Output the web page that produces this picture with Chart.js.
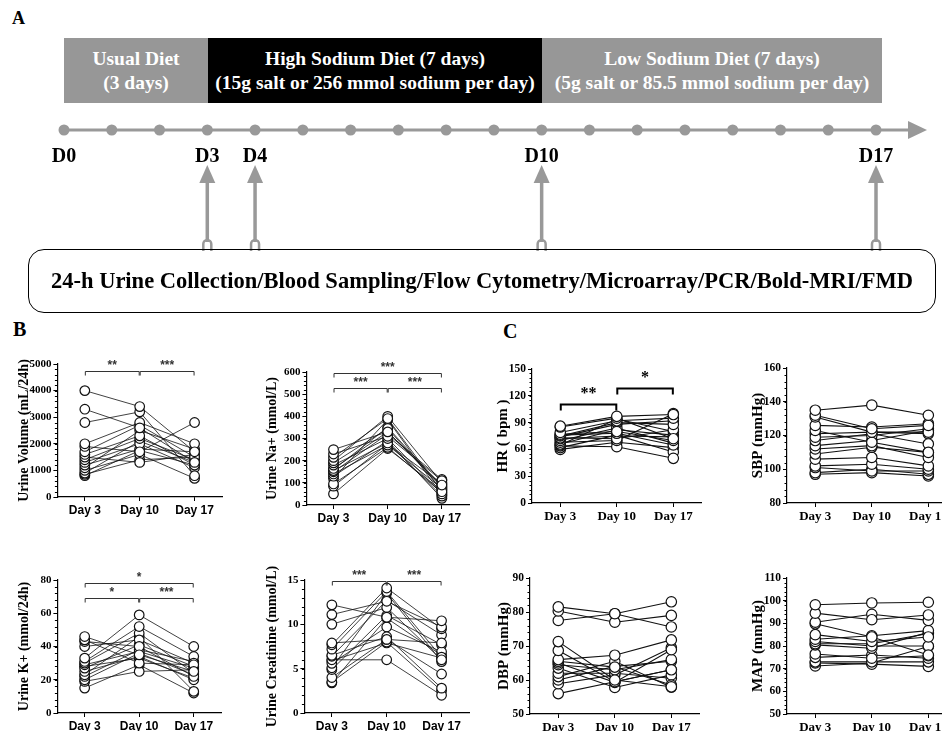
<!DOCTYPE html>
<html>
<head>
<meta charset="utf-8">
<script src="https://cdn.jsdelivr.net/npm/chart.js@4.4.1/dist/chart.umd.min.js"></script>
<style>
html, body { margin: 0; padding: 0; background: #fff; }
body { width: 942px; height: 731px; position: relative; overflow: hidden;
       font-family: "Liberation Serif", "Times New Roman", serif; }
.panel { position: absolute; font-weight: bold; font-size: 20px; color: #000; }
.diet { position: absolute; top: 38px; height: 65px; color: #fff; font-weight: bold;
        font-size: 19.5px; line-height: 24px; text-align: center; white-space: nowrap;
        display: flex; flex-direction: column; justify-content: center; }
.box { position: absolute; left: 28px; top: 249px; width: 906px; height: 62px;
       border: 1.5px solid #000; border-radius: 16px; display: flex; white-space: nowrap;
       align-items: center; justify-content: center; font-weight: bold; font-size: 22.5px; }
canvas { position: absolute; }
</style>
</head>
<body>

<div class="panel" style="left:12px;top:8px;font-size:18px;">A</div>
<div class="diet" style="left:64px;width:144px;background:#979797;"><div>Usual Diet</div><div>(3 days)</div></div>
<div class="diet" style="left:208px;width:334px;background:#000;"><div>High Sodium Diet (7 days)</div><div>(15g salt or 256 mmol sodium per day)</div></div>
<div class="diet" style="left:542px;width:340px;background:#979797;"><div>Low Sodium Diet (7 days)</div><div>(5g salt or 85.5 mmol sodium per day)</div></div>

<canvas id="timeline"></canvas>
<svg id="arrows" width="942" height="260" style="position:absolute;left:0;top:0;"></svg>

<div class="box">24-h Urine Collection/Blood Sampling/Flow Cytometry/Microarray/PCR/Bold-MRI/FMD</div>

<div class="panel" style="left:13px;top:318px;">B</div>
<div class="panel" style="left:503px;top:320px;">C</div>

<canvas id="vol"></canvas>
<canvas id="na"></canvas>
<canvas id="hr"></canvas>
<canvas id="sbp"></canvas>
<canvas id="k"></canvas>
<canvas id="cr"></canvas>
<canvas id="dbp"></canvas>
<canvas id="map"></canvas>

<script>
// ---- data ----
const dayLabels = ['Day 3', 'Day 10', 'Day 17'];

const timelineDays = [0, 1, 2, 3, 4, 5, 6, 7, 8, 9, 10, 11, 12, 13, 14, 15, 16, 17];
const milestoneDays = [0, 3, 4, 10, 17];
const sampleDays = [3, 4, 10, 17];

// urine volume (mL/24h)
const volD3  = [4000, 3300, 2800, 2000, 1900, 1700, 1600, 1500, 1400, 1300, 1200, 1100, 1000, 900, 850, 800];
const volD10 = [3400, 2600, 3200, 2800, 1700, 2700, 2300, 1300, 2200, 2000, 1800, 2500, 1600, 2100, 1400, 1750];
const volD17 = [1700, 1300, 800, 2000, 2800, 1500, 1200, 1600, 1400, 1100, 1700, 1800, 700, 1300, 1500, 1200];

// urine Na+ (mmol/L)
const naD3  = [250, 230, 215, 200, 190, 180, 165, 155, 150, 140, 130, 95, 85, 50, 160, 120];
const naD10 = [330, 310, 390, 400, 345, 300, 330, 280, 320, 270, 290, 260, 275, 255, 350, 385];
const naD17 = [90, 110, 60, 100, 70, 50, 85, 40, 115, 75, 30, 55, 95, 65, 80, 45];

// HR (bpm)
const hrD3  = [86, 85, 79, 77, 76, 75, 73, 72, 70, 68, 66, 65, 64, 62, 60, 74];
const hrD10 = [97, 95, 92, 80, 78, 90, 72, 75, 84, 70, 82, 94, 63, 76, 68, 88];
const hrD17 = [99, 72, 95, 70, 65, 88, 82, 74, 67, 100, 76, 80, 50, 57, 62, 92];

// SBP (mmHg)
const sbpD3  = [135, 132, 131, 126, 123, 119, 117, 114, 112, 109, 106, 102, 101, 98, 97, 121];
const sbpD10 = [138, 124, 122, 125, 116, 120, 121, 117, 114, 113, 107, 103, 99, 100, 98, 122];
const sbpD17 = [132, 126, 122, 127, 110, 124, 115, 123, 107, 110, 102, 100, 99, 97, 96, 121];

// urine K+ (mmol/24h)
const kD3  = [46, 44, 43, 40, 33, 31, 30, 29, 27, 25, 23, 22, 20, 19, 15, 28];
const kD10 = [35, 30, 40, 44, 59, 52, 48, 37, 41, 34, 46, 38, 36, 25, 29, 33];
const kD17 = [25, 29, 22, 30, 40, 34, 24, 27, 28, 20, 13, 31, 23, 26, 12, 21];

// urine creatinine (mmol/L)
const crD3  = [12.2, 11.1, 10.0, 7.9, 7.7, 7.2, 6.5, 6.4, 6.0, 5.6, 5.1, 4.9, 4.0, 3.5, 3.4, 5.9];
const crD10 = [10.8, 12.6, 11.9, 8.3, 14.1, 13.7, 8.6, 12.7, 6.0, 9.7, 13.5, 11.0, 8.3, 8.0, 10.7, 7.9];
const crD17 = [10.4, 9.7, 6.0, 7.9, 9.5, 6.3, 2.8, 8.8, 2.0, 6.9, 5.8, 7.7, 4.4, 2.5, 6.5, 6.2];

// DBP (mmHg)
const dbpD3  = [81.5, 80.3, 77.5, 71.3, 68.7, 66, 65.5, 65, 64.5, 63.5, 62, 61, 60, 58.9, 56];
const dbpD10 = [79.5, 77, 79.5, 60, 59.5, 67.3, 63.8, 59.3, 63, 57.8, 62, 65.5, 64, 61.5, 59.5];
const dbpD17 = [75.6, 79, 83, 58, 63, 71.8, 58.5, 68.9, 66, 61.5, 60.5, 57.9, 65.5, 69.5, 63];

// MAP (mmHg)
const mapD3  = [98.2, 94.5, 90.5, 89.8, 85, 83, 82, 81, 80.5, 76.5, 75, 73, 72.5, 71.2];
const mapD10 = [99, 91.6, 94, 84, 82, 84.5, 80, 81, 79, 74.6, 76, 73, 72, 72.5];
const mapD17 = [99.3, 93.7, 91.3, 76, 84, 86.8, 80, 85.5, 86, 75.7, 74.6, 73, 71, 79.8];

// ---- styling ----
const SERIF = "'Liberation Serif', 'Times New Roman', serif";
const SANS = "'Liberation Sans', Arial, sans-serif";
Chart.defaults.color = '#000';
Chart.defaults.animation = false;

// small unlabelled ticks on the y axis
const minorTicks = {
    id: 'minorTicks',
    afterDraw(chart, args, opts) {
        const y = chart.scales.y, ctx = chart.ctx, left = chart.chartArea.left;
        ctx.save();
        ctx.strokeStyle = '#000';
        ctx.lineWidth = 1;
        for (let v = y.min; v <= y.max + 1e-9; v += opts.step) {
            const p = Math.round(y.getPixelForValue(v)) + 0.5;
            ctx.beginPath();
            ctx.moveTo(left - 2.5, p);
            ctx.lineTo(left, p);
            ctx.stroke();
        }
        ctx.restore();
    }
};

// significance brackets
const brackets = {
    id: 'brackets',
    afterDraw(chart, args, opts) {
        const x = chart.scales.x, y = chart.scales.y, ctx = chart.ctx;
        ctx.save();
        ctx.strokeStyle = opts.color;
        ctx.fillStyle = opts.color;
        ctx.lineWidth = opts.width;
        ctx.font = opts.font;
        ctx.textAlign = 'center';
        ctx.textBaseline = 'bottom';
        (opts.items || []).forEach(b => {
            const x1 = x.getPixelForValue(b.from) + 0.5, x2 = x.getPixelForValue(b.to) - 0.5;
            const py = Math.round(y.getPixelForValue(b.at)) + 0.5;
            ctx.beginPath();
            ctx.moveTo(x1, py + opts.drop);
            ctx.lineTo(x1, py);
            ctx.lineTo(x2, py);
            ctx.lineTo(x2, py + opts.drop);
            ctx.stroke();
            ctx.fillText(b.label, (x1 + x2) / 2, py - opts.gap);
        });
        ctx.restore();
    }
};

function subjectSets(d3, d10, d17, style) {
    return d3.map((v, i) => ({
        data: [v, d10[i], d17[i]],
        borderColor: '#111',
        borderWidth: style.line,
        pointRadius: style.radius,
        pointHoverRadius: style.radius,
        pointBackgroundColor: '#fff',
        pointBorderColor: '#111',
        pointBorderWidth: 1.2,
        tension: 0,
        fill: false,
        clip: false
    }));
}

// g = where the axes sit on the page: left axis, right end, top (max), bottom (min), title centre
function makePanel(id, g, c) {
    const canvas = document.getElementById(id);
    const lh = c.titleSize * 1.2;
    const padTop = 24, xH = 26, padRight = 6;
    const left = g.titleX - lh / 2;
    const w = g.R - left + padRight;
    const h = g.B - g.T + padTop + xH;
    canvas.width = w; canvas.height = h;
    canvas.style.left = left + 'px';
    canvas.style.top = (g.T - padTop) + 'px';
    canvas.style.width = w + 'px';
    canvas.style.height = h + 'px';

    new Chart(canvas.getContext('2d'), {
        type: 'line',
        data: { labels: dayLabels, datasets: subjectSets(c.d3, c.d10, c.d17, c.style) },
        options: {
            responsive: false,
            devicePixelRatio: 1,
            layout: { padding: { top: padTop, right: padRight, left: 0, bottom: 0 } },
            plugins: {
                legend: { display: false },
                tooltip: { enabled: false },
                minorTicks: { step: c.minor },
                brackets: Object.assign({ items: c.brackets }, c.bracketStyle)
            },
            scales: {
                x: {
                    type: 'category',
                    offset: true,
                    afterFit: s => { s.height = xH; },
                    grid: { drawOnChartArea: false, drawTicks: true, tickLength: 4, color: '#000', offset: false },
                    border: { color: '#000', width: 1.2 },
                    ticks: { font: c.xFont, padding: 2, color: '#000', maxRotation: 0 }
                },
                y: {
                    min: c.min, max: c.max,
                    afterFit: s => { s.width = g.L - left; },
                    grid: { drawOnChartArea: false, drawTicks: true, tickLength: 4, color: '#000' },
                    border: { color: '#000', width: 1.2 },
                    ticks: { stepSize: c.step, font: c.yFont, padding: 2, color: '#000',
                             callback: v => String(v) },
                    title: { display: true, text: c.title, padding: 0,
                             font: { family: SERIF, weight: 'bold', size: c.titleSize }, color: '#000' }
                }
            }
        },
        plugins: [minorTicks, brackets]
    });
}

const bStyle = {
    style: { line: 0.8, radius: 4.8 },
    xFont: { family: SANS, weight: 'bold', size: 12 },
    yFont: { family: SERIF, weight: 'bold', size: 11 },
    titleSize: 14,
    bracketStyle: { color: '#333', width: 1, drop: 4, gap: 0, font: "bold 12px 'Liberation Sans', Arial, sans-serif" }
};
const cStyle = {
    style: { line: 1.1, radius: 5.2 },
    xFont: { family: SERIF, weight: 'bold', size: 13 },
    yFont: { family: SERIF, weight: 'bold', size: 11.5 },
    titleSize: 15,
    bracketStyle: { color: '#000', width: 2, drop: 6, gap: 3, font: "bold 16px 'Liberation Serif', serif" }
};

makePanel('vol', { L: 57, R: 222, T: 364, B: 497, titleX: 24 }, Object.assign({}, bStyle, {
    d3: volD3, d10: volD10, d17: volD17, min: 0, max: 5000, step: 1000, minor: 200,
    title: 'Urine Volume (mL/24h)',
    brackets: [{ from: 0, to: 1, at: 4750, label: '**' }, { from: 1, to: 2, at: 4750, label: '***' }]
}));
makePanel('na', { L: 306, R: 469, T: 372, B: 505, titleX: 272 }, Object.assign({}, bStyle, {
    d3: naD3, d10: naD10, d17: naD17, min: 0, max: 600, step: 100, minor: 20,
    title: 'Urine Na+ (mmol/L)',
    brackets: [{ from: 0, to: 2, at: 594, label: '***' },
               { from: 0, to: 1, at: 528, label: '***' }, { from: 1, to: 2, at: 528, label: '***' }]
}));
makePanel('hr', { L: 532, R: 702, T: 369, B: 503, titleX: 503 }, Object.assign({}, cStyle, {
    d3: hrD3, d10: hrD10, d17: hrD17, min: 0, max: 150, step: 30, minor: 5,
    title: 'HR ( bpm )',
    brackets: [{ from: 0, to: 1, at: 111, label: '**' }, { from: 1, to: 2, at: 129, label: '*' }]
}));
makePanel('sbp', { L: 787, R: 957, T: 368, B: 503, titleX: 758 }, Object.assign({}, cStyle, {
    d3: sbpD3, d10: sbpD10, d17: sbpD17, min: 80, max: 160, step: 20, minor: 4,
    title: 'SBP (mmHg)', brackets: []
}));
makePanel('k', { L: 57, R: 221, T: 580, B: 713, titleX: 24 }, Object.assign({}, bStyle, {
    d3: kD3, d10: kD10, d17: kD17, min: 0, max: 80, step: 20, minor: 4,
    title: 'Urine K+ (mmol/24h)',
    brackets: [{ from: 0, to: 2, at: 78, label: '*' },
               { from: 0, to: 1, at: 69, label: '*' }, { from: 1, to: 2, at: 69, label: '***' }]
}));
makePanel('cr', { L: 304, R: 469, T: 580, B: 713, titleX: 272 }, Object.assign({}, bStyle, {
    d3: crD3, d10: crD10, d17: crD17, min: 0, max: 15, step: 5, minor: 1,
    title: 'Urine Creatinine (mmol/L)',
    brackets: [{ from: 0, to: 1, at: 14.9, label: '***' }, { from: 1, to: 2, at: 14.9, label: '***' }]
}));
makePanel('dbp', { L: 530, R: 700, T: 578, B: 714, titleX: 504 }, Object.assign({}, cStyle, {
    d3: dbpD3, d10: dbpD10, d17: dbpD17, min: 50, max: 90, step: 10, minor: 2,
    title: 'DBP (mmHg)', brackets: []
}));
makePanel('map', { L: 787, R: 957, T: 578, B: 714, titleX: 758 }, Object.assign({}, cStyle, {
    d3: mapD3, d10: mapD10, d17: mapD17, min: 50, max: 110, step: 10, minor: 2,
    title: 'MAP (mmHg)', brackets: []
}));

// ---- timeline (panel A) ----
const tlArrow = {
    id: 'tlArrow',
    beforeDatasetsDraw(chart) {
        const ctx = chart.ctx, x = chart.scales.x, y = chart.scales.y;
        const x0 = x.getPixelForValue(timelineDays[timelineDays.length - 1]);
        const py = y.getPixelForValue(0);
        ctx.save();
        ctx.strokeStyle = '#999'; ctx.fillStyle = '#999'; ctx.lineWidth = 3;
        ctx.beginPath(); ctx.moveTo(x0, py); ctx.lineTo(x0 + 36, py); ctx.stroke();
        ctx.beginPath();
        ctx.moveTo(x0 + 32, py - 9); ctx.lineTo(x0 + 51, py); ctx.lineTo(x0 + 32, py + 9);
        ctx.closePath(); ctx.fill();
        ctx.restore();
    }
};

(function () {
    const canvas = document.getElementById('timeline');
    const w = 942, h = 60, top = 112;
    canvas.width = w; canvas.height = h;
    canvas.style.left = '0px'; canvas.style.top = top + 'px';
    canvas.style.width = w + 'px'; canvas.style.height = h + 'px';
    new Chart(canvas.getContext('2d'), {
        type: 'line',
        data: {
            datasets: [{
                data: timelineDays.map(d => ({ x: d, y: 0 })),
                borderColor: '#999', borderWidth: 3,
                pointRadius: 5.5, pointBackgroundColor: '#999', pointBorderColor: '#999',
                pointBorderWidth: 0, clip: false
            }]
        },
        options: {
            responsive: false,
            devicePixelRatio: 1,
            layout: { padding: { left: 64, right: 66, top: 6, bottom: 0 } },
            plugins: { legend: { display: false }, tooltip: { enabled: false } },
            scales: {
                x: {
                    type: 'linear', min: 0, max: 17,
                    afterFit: s => { s.height = h - 6 - 24; },
                    grid: { display: false, drawTicks: false },
                    border: { display: false },
                    ticks: {
                        stepSize: 1, autoSkip: false, padding: 3, maxRotation: 0,
                        font: { family: SERIF, weight: 'bold', size: 20 }, color: '#000',
                        callback: v => milestoneDays.includes(v) ? 'D' + v : ''
                    }
                },
                y: { display: false, min: -1, max: 1 }
            }
        },
        plugins: [tlArrow]
    });

    // sampling arrows from the box up to the timeline
    const svg = document.getElementById('arrows');
    const ns = 'http://www.w3.org/2000/svg';
    const dayX = d => 64 + d * (876 - 64) / 17;
    sampleDays.forEach(d => {
        const x = dayX(d);
        const line = document.createElementNS(ns, 'path');
        line.setAttribute('d', `M${x} 242 L${x} 178`);
        line.setAttribute('stroke', '#999'); line.setAttribute('stroke-width', '3.5');
        svg.appendChild(line);
        const head = document.createElementNS(ns, 'polygon');
        head.setAttribute('points', `${x - 8},183 ${x + 8},183 ${x},165`);
        head.setAttribute('fill', '#999');
        svg.appendChild(head);
        const loop = document.createElementNS(ns, 'path');
        loop.setAttribute('d', `M${x - 4} 251 L${x - 4} 244 A4 4 0 0 1 ${x + 4} 244 L${x + 4} 251`);
        loop.setAttribute('stroke', '#999'); loop.setAttribute('stroke-width', '2.5');
        loop.setAttribute('fill', 'none');
        svg.appendChild(loop);
    });
})();
</script>
</body>
</html>
